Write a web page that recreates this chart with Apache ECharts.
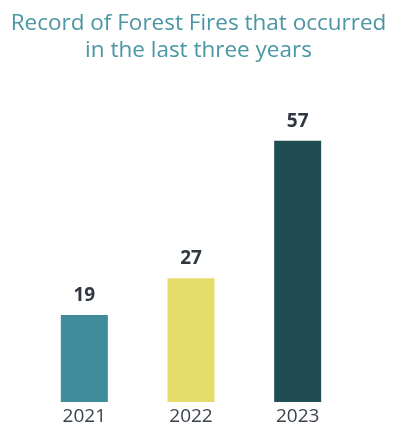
<!DOCTYPE html>
<html>
<head>
<meta charset="utf-8">
<script src="https://cdn.jsdelivr.net/npm/echarts@6/dist/echarts.min.js"></script>
<style>
  html, body { margin: 0; padding: 0; background: #fff; }
  #main { width: 397px; height: 440px; }
</style>
</head>
<body>
<div id="main"></div>
<script>
const years = ['2021', '2022', '2023'];
const fires = [19, 27, 57];
const barColors = ['#3f8d9a', '#e5dc69', '#1f4d53'];

const chart = echarts.init(document.getElementById('main'));

chart.setOption({
    backgroundColor: '#fff',
    title: {
        text: 'Record of Forest Fires that occurred\nin the last three years',
        left: 'center',
        top: 5,
        textStyle: {
            fontFamily: 'Open Sans',
            fontSize: 22.5,
            fontWeight: 'normal',
            color: '#4a96a4',
            lineHeight: 27
        }
    },
    grid: { left: 31, right: 46, top: 127, bottom: 38 },
    xAxis: {
        type: 'category',
        data: years,
        axisLine: { show: false },
        axisTick: { show: false },
        axisLabel: {
            fontFamily: 'Open Sans',
            fontSize: 19,
            color: '#3b424a',
            margin: 5
        }
    },
    yAxis: {
        type: 'value',
        min: 0,
        max: 60,
        show: false
    },
    series: [{
        type: 'bar',
        barWidth: 47,
        data: fires.map((v, i) => ({ value: v, itemStyle: { color: barColors[i] } })),
        label: {
            show: true,
            position: 'top',
            distance: 10,
            fontFamily: 'Open Sans',
            fontWeight: 'bold',
            fontSize: 19,
            color: '#2f3741'
        }
    }]
});
</script>
</body>
</html>
